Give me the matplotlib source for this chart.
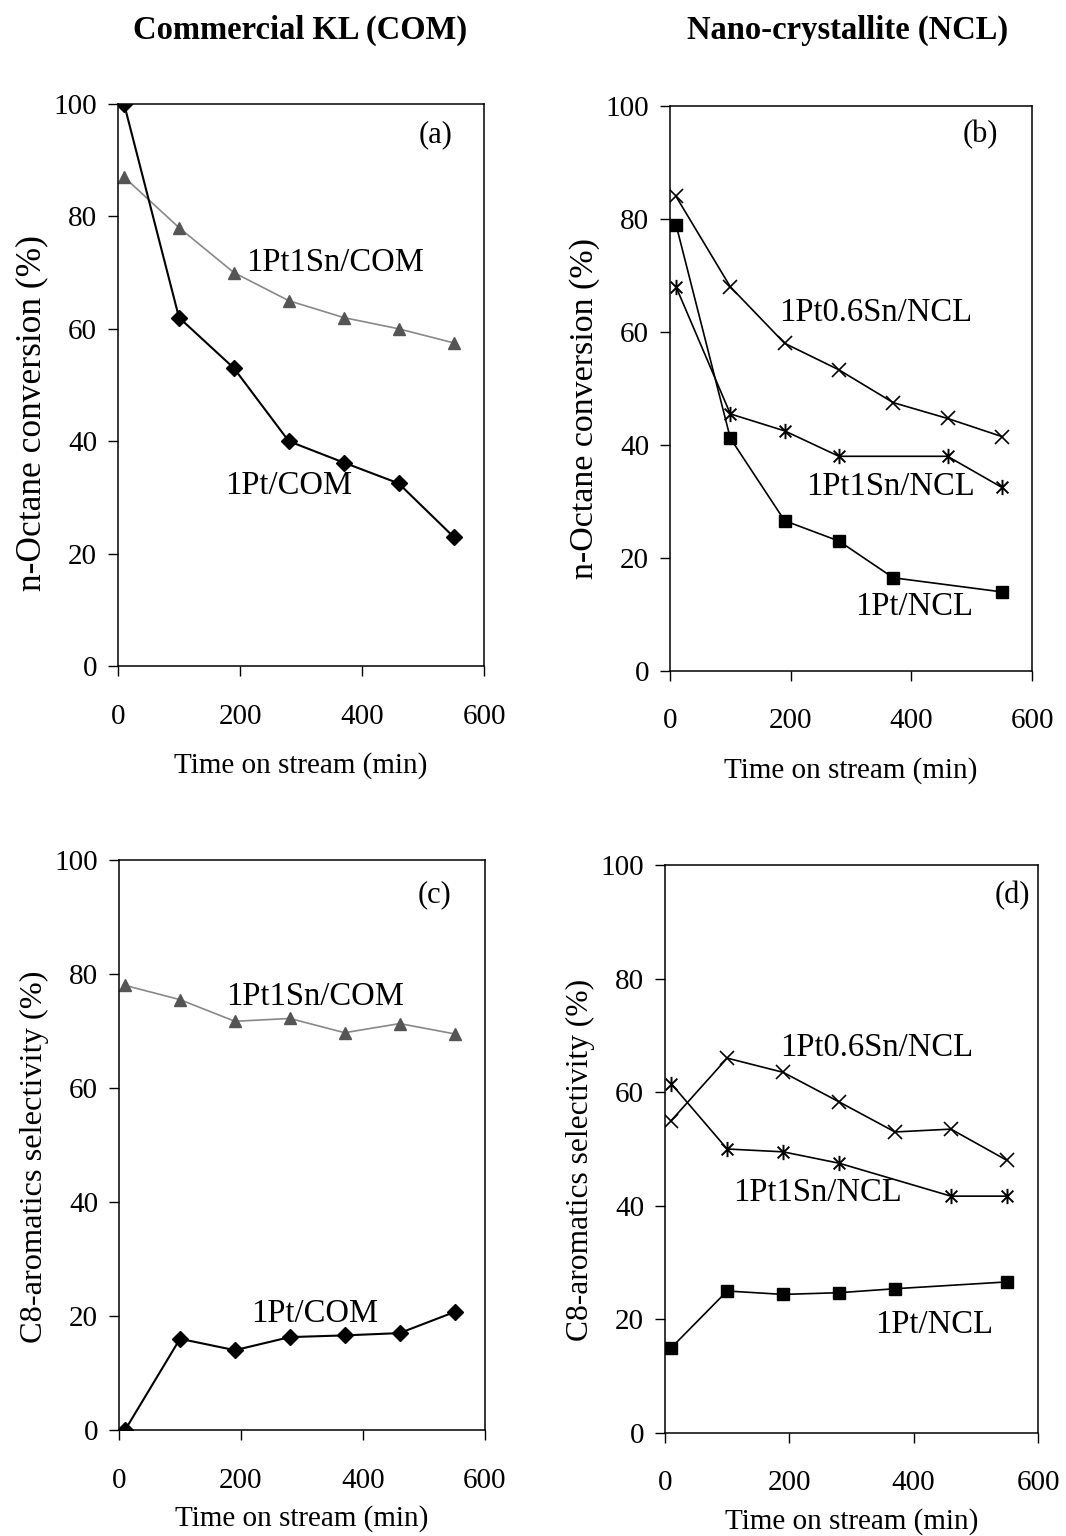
import matplotlib
matplotlib.use("Agg")
import matplotlib.pyplot as plt
from matplotlib.path import Path

plt.rcParams['font.family'] = ['Liberation Serif', 'DejaVu Serif']

# time on stream (min)
t = [10, 100, 190, 280, 370, 460, 550]
t_no370 = [10, 100, 190, 280, 460, 550]
t_no460 = [10, 100, 190, 280, 370, 550]

# (a) n-octane conversion, commercial KL
conv_pt_com = [100, 62, 53, 40, 36.2, 32.5, 23]
conv_ptsn_com = [87, 78, 70, 65, 62, 60, 57.5]

# (b) n-octane conversion, nano-crystallite
conv_pt06sn_ncl = [84, 68, 58, 53.3, 47.5, 44.7, 41.5]
conv_pt1sn_ncl = [68, 45.5, 42.5, 38, 38, 32.5]
conv_pt_ncl = [79, 41.2, 26.6, 23, 16.5, 14]

# (c) C8-aromatics selectivity, commercial KL
sel_ptsn_com = [78, 75.5, 71.7, 72.2, 69.7, 71.3, 69.5]
sel_pt_com = [0, 16, 14, 16.3, 16.6, 17, 20.7]

# (d) C8-aromatics selectivity, nano-crystallite
sel_pt06sn_ncl = [55, 66, 63.5, 58.3, 53, 53.5, 48]
sel_pt1sn_ncl = [61.5, 50, 49.5, 47.5, 41.7, 41.7]
sel_pt_ncl = [15, 25, 24.4, 24.7, 25.4, 26.6]

W, H = 1066, 1536
fig = plt.figure(figsize=(W / 100, H / 100), dpi=100)


def rect(l, r, t_, b):
    return [l / W, 1 - b / H, (r - l) / W, (b - t_) / H]


# x with a vertical bar
asterisk = Path([(-1, -1), (1, 1), (-1, 1), (1, -1), (0, -1.3), (0, 1.3)],
                [Path.MOVETO, Path.LINETO, Path.MOVETO, Path.LINETO,
                 Path.MOVETO, Path.LINETO])

FS = 23.5


def setup(ax, ylabel, yfs, ypos, lpad):
    ax.set_xlim(0, 600)
    ax.set_ylim(0, 100)
    ax.set_xticks([0, 200, 400, 600])
    ax.set_yticks([0, 20, 40, 60, 80, 100])
    ax.tick_params(direction='out', length=7, width=1, labelsize=21)
    ax.tick_params(axis='x', pad=20)
    ax.tick_params(axis='y', pad=8)
    for s in ax.spines.values():
        s.set_linewidth(1.1)
    ax.set_xlabel('Time on stream (min)', fontsize=21, labelpad=lpad)
    ax.set_ylabel(ylabel, fontsize=yfs, labelpad=4)
    ax.yaxis.label.set_y(ypos)


ax_a = fig.add_axes(rect(118, 484, 104, 666))
ax_b = fig.add_axes(rect(670, 1032, 106, 671))
ax_c = fig.add_axes(rect(119, 485, 860, 1430))
ax_d = fig.add_axes(rect(665, 1038, 865, 1433))

# (a)
ax_a.plot(t, conv_ptsn_com, color='#888888', lw=1.2, marker='^', ms=8,
          mfc='#555555', mec='#555555')
ax_a.plot(t, conv_pt_com, color='black', lw=1.5, marker='D', ms=8)
ax_a.text(356, 71.7, '1Pt1Sn/COM', fontsize=FS, ha='center', va='center')
ax_a.text(280, 32, '1Pt/COM', fontsize=FS, ha='center', va='center')
ax_a.text(520, 94.5, '(a)', fontsize=22, ha='center', va='center')
setup(ax_a, 'n-Octane conversion (%)', 25.5, 0.45, 16)

# (b)
ax_b.plot(t, conv_pt06sn_ncl, color='black', lw=1.2, marker='x', ms=10, mew=1.2)
ax_b.plot(t_no370, conv_pt1sn_ncl, color='black', lw=1.2, marker=asterisk,
          ms=11, mew=1.4)
ax_b.plot(t_no460, conv_pt_ncl, color='black', lw=1.2, marker='s', ms=8)
ax_b.text(341, 63.4, '1Pt0.6Sn/NCL', fontsize=FS, ha='center', va='center')
ax_b.text(365, 32.6, '1Pt1Sn/NCL', fontsize=FS, ha='center', va='center')
ax_b.text(404, 11.3, '1Pt/NCL', fontsize=FS, ha='center', va='center')
ax_b.text(514, 94.9, '(b)', fontsize=22, ha='center', va='center')
setup(ax_b, 'n-Octane conversion (%)', 24.5, 0.464, 16)

# (c)
ax_c.plot(t, sel_ptsn_com, color='#888888', lw=1.2, marker='^', ms=8,
          mfc='#555555', mec='#555555')
ax_c.plot(t, sel_pt_com, color='black', lw=1.5, marker='D', ms=8)
ax_c.text(321, 76, '1Pt1Sn/COM', fontsize=FS, ha='center', va='center')
ax_c.text(320, 20.4, '1Pt/COM', fontsize=FS, ha='center', va='center')
ax_c.text(518, 93.9, '(c)', fontsize=22, ha='center', va='center')
setup(ax_c, 'C8-aromatics selectivity (%)', 23.3, 0.479, 8)

# (d)
ax_d.plot(t, sel_pt06sn_ncl, color='black', lw=1.2, marker='x', ms=10, mew=1.2)
ax_d.plot(t_no370, sel_pt1sn_ncl, color='black', lw=1.2, marker=asterisk,
          ms=11, mew=1.4)
ax_d.plot(t_no460, sel_pt_ncl, color='black', lw=1.2, marker='s', ms=8)
ax_d.text(341, 67.8, '1Pt0.6Sn/NCL', fontsize=FS, ha='center', va='center')
ax_d.text(245, 42.3, '1Pt1Sn/NCL', fontsize=FS, ha='center', va='center')
ax_d.text(433, 19, '1Pt/NCL', fontsize=FS, ha='center', va='center')
ax_d.text(558, 94.7, '(d)', fontsize=22, ha='center', va='center')
setup(ax_d, 'C8-aromatics selectivity (%)', 22.7, 0.48, 8)

# column titles
fig.text(300 / W, 1 - 30 / H, 'Commercial KL (COM)', fontsize=23.5,
         fontweight='bold', ha='center', va='center')
fig.text(848 / W, 1 - 30 / H, 'Nano-crystallite (NCL)', fontsize=23.5,
         fontweight='bold', ha='center', va='center')

fig.savefig('out.png', dpi=100)
